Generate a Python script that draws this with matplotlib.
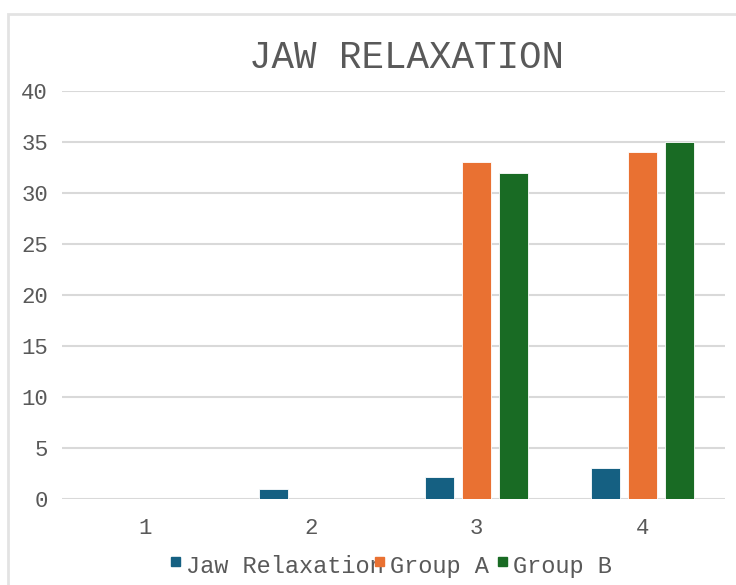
import numpy as np
import matplotlib.pyplot as plt
from matplotlib.patches import Rectangle

categories = ['1', '2', '3', '4']
jaw_relaxation = [0, 1, 2.2, 3]
group_a = [0, 0, 33, 34]
group_b = [0, 0, 32, 35]
series_names = ['Jaw Relaxation', 'Group A', 'Group B']
colors = ['#156082', '#E97132', '#196B24']

text_color = '#595959'
grid_color = '#D9D9D9'
plt.rcParams['font.family'] = ['Liberation Mono', 'DejaVu Sans Mono']

W, H = 736, 585
fig = plt.figure(figsize=(W / 100, H / 100), dpi=100)
# light chart-area border
fig.add_artist(Rectangle((8 / W, -0.05), 1.2, 1 - 14 / H + 0.05,
                         transform=fig.transFigure, fill=False,
                         edgecolor='#E3E3E3', linewidth=2))

ax = fig.add_axes([62 / W, 86 / H, 663 / W, 408 / H])
x = np.arange(len(categories))
width = 0.175
step = 0.223
for i, (vals, col) in enumerate(zip([jaw_relaxation, group_a, group_b], colors)):
    ax.bar(x + (i - 1) * step, vals, width, color=col, edgecolor='white',
           linewidth=0.6, zorder=3)

ax.set_xlim(-0.5, 3.5)
ax.set_ylim(0, 40)
ax.set_yticks(range(0, 41, 5))
ax.set_xticks(x)
ax.set_xticklabels(categories)
ax.yaxis.grid(True, color=grid_color, linewidth=1.5, zorder=0)
for s in ax.spines.values():
    s.set_visible(False)
ax.tick_params(length=0, labelsize=16, labelcolor=text_color)
ax.tick_params(axis='y', pad=10)
ax.tick_params(axis='x', pad=14)

fig.text(0.552, 0.9, 'JAW RELAXATION', ha='center', va='center',
         fontsize=27, color=text_color)

# legend entries laid out by hand (marker left edge, label left edge in px)
marker_x = [171, 375, 498]
label_x = [186, 390, 513]
for name, col, mx, lx in zip(series_names, colors, marker_x, label_x):
    fig.add_artist(Rectangle((mx / W, (H - 566) / H), 9 / W, 9 / H,
                             transform=fig.transFigure, color=col, zorder=5))
    fig.text(lx / W, (H - 573) / H, name, ha='left', va='baseline',
             fontsize=17, color=text_color, zorder=4)

fig.savefig('out.png', dpi=100)
